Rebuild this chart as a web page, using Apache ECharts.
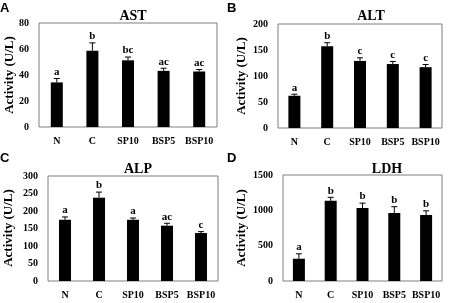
<!DOCTYPE html>
<html><head><meta charset="utf-8">
<script src="https://cdn.jsdelivr.net/npm/echarts@6/dist/echarts.min.js"></script>
<style>html,body{margin:0;padding:0;background:#fff}#c{width:451px;height:303px}</style>
</head><body><div id="c"></div>
<script>
const categories = ['N', 'C', 'SP10', 'BSP5', 'BSP10'];
const astValues = [34.3, 58.7, 51.3, 43.2, 42.7];
const astErrors = [3, 6, 2.5, 2, 1.5];
const astLetters = ['a', 'b', 'bc', 'ac', 'ac'];
const altValues = [62, 157, 129, 123, 117];
const altErrors = [3, 7, 6, 5, 5];
const altLetters = ['a', 'b', 'c', 'c', 'c'];
const alpValues = [175, 238, 175, 158, 137];
const alpErrors = [8, 16, 5, 7, 4];
const alpLetters = ['a', 'b', 'a', 'ac', 'c'];
const ldhValues = [315, 1134, 1032, 961, 933];
const ldhErrors = [70, 50, 70, 90, 60];
const ldhLetters = ['a', 'b', 'b', 'b', 'b'];
const yMax = [80, 200, 300, 1500];
const yStep = [20, 50, 50, 500];
const titles = ['AST', 'ALT', 'ALP', 'LDH'];
const panelLetters = ['A', 'B', 'C', 'D'];

const serif = 'Liberation Serif';
const panels = [
  {v: astValues, e: astErrors, l: astLetters},
  {v: altValues, e: altErrors, l: altLetters},
  {v: alpValues, e: alpErrors, l: alpLetters},
  {v: ldhValues, e: ldhErrors, l: ldhLetters}
];
const grids = [
  {left: 39, top: 23, width: 178, height: 104},
  {left: 278, top: 24, width: 164, height: 104},
  {left: 48, top: 176, width: 170, height: 105},
  {left: 283, top: 175, width: 159, height: 106}
];
const titlePos = [[128, 4], [366, 4], [133, 157], [382, 157]];
const namePos = [[10, 75], [242, 76], [9, 228], [242, 228]];
const letterPos = [[0, 2], [227, 2], [0, 152], [227, 152]];

const option = {
  animation: false,
  backgroundColor: '#fff',
  title: titles.map((t, i) => ({
    text: t, left: titlePos[i][0], top: titlePos[i][1], textAlign: 'center',
    textStyle: {fontFamily: serif, fontWeight: 'bold', fontSize: 14, color: '#000'}
  })),
  graphic: panelLetters.map((t, i) => ({
    type: 'text', left: letterPos[i][0], top: letterPos[i][1],
    style: {text: t, font: 'bold 13px "Liberation Sans"', fill: '#000'}
  })).concat(namePos.map((p, i) => ({
    type: 'text', x: p[0], y: p[1], rotation: Math.PI / 2,
    style: {text: 'Activity (U/L)', font: 'bold 13px "Liberation Serif"', fill: '#000', align: 'center', verticalAlign: 'middle'}
  }))),
  grid: grids.map(g => Object.assign({show: true, borderColor: '#7f7f7f', borderWidth: 1, backgroundColor: 'transparent'}, g)),
  xAxis: grids.map((g, i) => ({
    type: 'category', gridIndex: i, data: categories,
    axisLine: {show: false}, axisTick: {show: false},
    axisLabel: {fontFamily: serif, fontWeight: 'bold', fontSize: 10, color: '#000', margin: 9, interval: 0}
  })),
  yAxis: grids.map((g, i) => ({
    type: 'value', gridIndex: i, min: 0, max: yMax[i], interval: yStep[i],
    splitLine: {show: false}, axisLine: {show: false}, axisTick: {show: false},
    axisLabel: {fontFamily: serif, fontWeight: 'bold', fontSize: 10, color: '#000', margin: 10,
      formatter: v => String(v)}
  })),
  series: []
};

panels.forEach((p, i) => {
  option.series.push({
    type: 'bar', xAxisIndex: i, yAxisIndex: i, data: p.v, barWidth: 12,
    itemStyle: {color: '#000'}
  });
  option.series.push({
    type: 'custom', xAxisIndex: i, yAxisIndex: i,
    data: p.v.map((v, k) => [k, v, v + p.e[k], p.l[k]]),
    renderItem: function (params, api) {
      const x = api.coord([api.value(0), api.value(1)]);
      const t = api.coord([api.value(0), api.value(2)]);
      return {
        type: 'group', children: [
          {type: 'line', shape: {x1: x[0], y1: x[1], x2: x[0], y2: t[1]}, style: {stroke: '#000', lineWidth: 1}},
          {type: 'line', shape: {x1: x[0] - 3, y1: t[1], x2: x[0] + 3, y2: t[1]}, style: {stroke: '#000', lineWidth: 1}},
          {type: 'text', x: x[0], y: t[1] - 1, style: {text: p.l[params.dataIndex], font: 'bold 11px "Liberation Serif"', fill: '#000', align: 'center', verticalAlign: 'bottom'}}
        ]
      };
    }
  });
});

const chart = echarts.init(document.getElementById('c'), null, {renderer: 'canvas'});
chart.setOption(option);
</script></body></html>
